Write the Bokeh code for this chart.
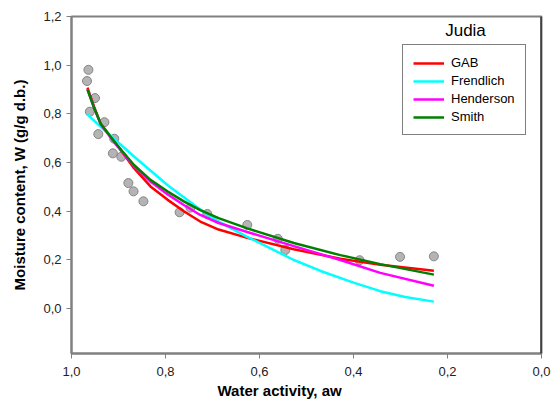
from bokeh.plotting import figure
from bokeh.models import Range1d, Label, Span, Legend, LegendItem, FixedTicker, Title
from bokeh.embed import file_html
from bokeh.resources import INLINE

# Observed data (aw, W)
obs_aw = [0.964, 0.967, 0.950, 0.961, 0.930, 0.943, 0.909, 0.912, 0.894, 0.879, 0.868, 0.847,
          0.770, 0.747, 0.711, 0.626, 0.561, 0.545, 0.387, 0.301, 0.229]
obs_w = [0.981, 0.935, 0.865, 0.809, 0.766, 0.717, 0.698, 0.638, 0.624, 0.516, 0.482, 0.441,
         0.396, 0.415, 0.389, 0.344, 0.287, 0.241, 0.199, 0.213, 0.215]

# Model curves
gab_aw = [0.966, 0.952, 0.938, 0.903, 0.867, 0.832, 0.796, 0.761, 0.726, 0.687, 0.626, 0.527, 0.428, 0.343, 0.229]
gab_w = [0.908, 0.830, 0.760, 0.672, 0.577, 0.502, 0.448, 0.400, 0.358, 0.325, 0.291, 0.244, 0.205, 0.180, 0.156]

fre_aw = [0.967, 0.931, 0.867, 0.796, 0.726, 0.687, 0.626, 0.527, 0.470, 0.400, 0.343, 0.290, 0.229]
fre_w = [0.799, 0.735, 0.625, 0.508, 0.407, 0.358, 0.295, 0.200, 0.155, 0.107, 0.072, 0.048, 0.029]

hen_aw = [0.966, 0.952, 0.938, 0.903, 0.867, 0.832, 0.796, 0.761, 0.726, 0.687, 0.626, 0.527, 0.428, 0.343, 0.229]
hen_w = [0.902, 0.825, 0.758, 0.668, 0.585, 0.522, 0.470, 0.426, 0.385, 0.352, 0.315, 0.257, 0.200, 0.147, 0.094]

smi_aw = [0.966, 0.952, 0.938, 0.903, 0.867, 0.832, 0.796, 0.761, 0.726, 0.687, 0.626, 0.527, 0.428, 0.343, 0.229]
smi_w = [0.900, 0.825, 0.760, 0.672, 0.590, 0.529, 0.482, 0.441, 0.405, 0.372, 0.330, 0.270, 0.220, 0.183, 0.140]

x_ticks = [1.0, 0.8, 0.6, 0.4, 0.2, 0.0]
x_tick_labels = ["1,0", "0,8", "0,6", "0,4", "0,2", "0,0"]
y_ticks = [0.0, 0.2, 0.4, 0.6, 0.8, 1.0, 1.2]
y_tick_labels = ["0,0", "0,2", "0,4", "0,6", "0,8", "1,0", "1,2"]

FONT = "Liberation Sans"

p = figure(width=551, height=414, output_backend="svg", toolbar_location=None,
           x_range=Range1d(1.0, 0.0), y_range=Range1d(-0.184, 1.2),
           min_border_left=71, min_border_right=10, min_border_top=16, min_border_bottom=61)
p.background_fill_color = "white"
p.border_fill_color = "white"
p.grid.visible = False
p.outline_line_color = "#808080"
p.outline_line_width = 2

for ax, ticks, labels in ((p.xaxis[0], x_ticks, x_tick_labels), (p.yaxis[0], y_ticks, y_tick_labels)):
    ax.ticker = FixedTicker(ticks=ticks)
    ax.major_label_overrides = {t: l for t, l in zip(ticks, labels)}
    ax.minor_tick_line_color = None
    ax.major_tick_in = 0
    ax.major_tick_out = 5
    ax.axis_line_color = "#808080"
    ax.axis_line_width = 2
    ax.major_tick_line_color = "#808080"
    ax.major_tick_line_width = 1
    ax.major_label_text_font = FONT
    ax.major_label_text_font_size = "13px"
    ax.major_label_text_color = "#222222"

p.xaxis.major_label_standoff = 8
p.yaxis.major_label_standoff = 5
p.yaxis.axis_label = "Moisture content, W (g/g d.b.)"
p.yaxis.axis_label_text_font = FONT
p.yaxis.axis_label_text_font_size = "15px"
p.yaxis.axis_label_text_font_style = "bold"
p.yaxis.axis_label_text_color = "black"
p.yaxis.axis_label_standoff = 12

# x axis title, placed below the axis
p.add_layout(Title(text="Water activity, aw", align="left", offset=146, standoff=2,
                   text_font=FONT, text_font_size="15px", text_font_style="bold",
                   text_color="black"), "below")

# right border in black
p.add_layout(Span(location=0.0, dimension="height", line_color="black", line_width=2))

p.scatter(obs_aw, obs_w, size=9, fill_color="#b4b4b4", line_color="#858585", line_width=1)

r_gab = p.line(gab_aw, gab_w, line_color="#ff0000", line_width=2.5)
r_fre = p.line(fre_aw, fre_w, line_color="#00ffff", line_width=2.5)
r_hen = p.line(hen_aw, hen_w, line_color="#ff00ff", line_width=2.5)
r_smi = p.line(smi_aw, smi_w, line_color="#008000", line_width=2.5)

legend = Legend(items=[LegendItem(label="GAB", renderers=[r_gab]),
                       LegendItem(label="Frendlich", renderers=[r_fre]),
                       LegendItem(label="Henderson", renderers=[r_hen]),
                       LegendItem(label="Smith", renderers=[r_smi])],
                location=(331, 218), padding=10, spacing=3, glyph_width=31, glyph_height=14,
                label_height=14, label_standoff=7, margin=0,
                label_text_font=FONT, label_text_font_size="13px", label_text_color="black",
                border_line_color="black", border_line_width=1, background_fill_color="white",
                background_fill_alpha=1.0)
p.add_layout(legend, "center")

p.add_layout(Label(x=394, y=323, x_units="screen", y_units="screen", text="Judia",
                   text_align="center", text_baseline="alphabetic", text_font=FONT,
                   text_font_size="17px", text_color="black"))

open("out.html", "w").write(file_html(p, INLINE))
